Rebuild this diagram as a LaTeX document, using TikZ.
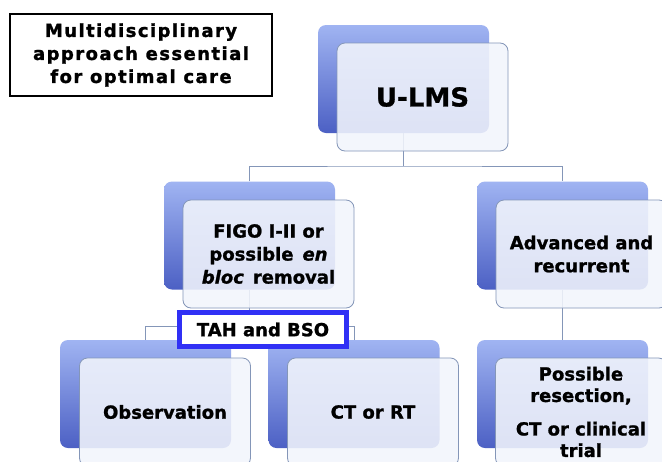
\documentclass[tikz,border=0pt]{standalone}
\usepackage{fontspec}
\setmainfont{DejaVu Sans}[BoldFeatures={FakeBold=1.2}, BoldItalicFeatures={FakeBold=1.2}]
\newfontfamily\titlefont{DejaVu Sans}[LetterSpace=8, BoldFeatures={FakeBold=1.4}]
\usetikzlibrary{positioning}
\definecolor{linkcol}{RGB}{132,150,184}
\definecolor{backtop}{RGB}{160,180,242}
\definecolor{backbot}{RGB}{76,96,196}
\definecolor{frontfill}{RGB}{242,245,252}
\definecolor{tahblue}{RGB}{48,48,245}

\begin{document}
\begin{tikzpicture}[
		x=1pt, y=-1pt,
		backbox/.style={rounded corners=8pt, minimum width=171pt, minimum height=108pt, top color=backtop, bottom color=backbot, draw=none},
		frontbox/.style={draw=linkcol, line width=0.8pt, rounded corners=8pt, minimum width=171pt, minimum height=108pt, fill=frontfill, fill opacity=0.88, text opacity=1, align=center, font=\fontsize{18}{23}\selectfont\bfseries},
		link/.style={draw=linkcol, line width=1pt},
	]
	\clip (0,0) rectangle (662,461);
	\fill[white] (0,0) rectangle (662,461);

	\node[draw=black, line width=1.5pt, fill=white, minimum width=262pt, minimum height=82pt, align=center, font=\titlefont\fontsize{18}{23}\selectfont\bfseries] (title) at (141,55) {Multidisciplinary\\approach essential\\for optimal care};

	% top level
	\node[backbox] (ulmsBack) at (403.5,79) {};
	% second level
	\node[backbox] (figoBack) at (249.5,235.5) {};
	\node[backbox] (advBack) at (562.5,235.5) {};
	% third level
	\node[backbox] (obsBack) at (145.5,394) {};
	\node[backbox] (ctBack) at (354,394) {};
	\node[backbox] (resBack) at (562.5,394) {};

	\coordinate (split1) at (403.5,166);
	\coordinate (split2) at (249.5,326);
	\draw[link] (ulmsBack.south) -- (split1);
	\draw[link] (figoBack.north) |- (split1) -| (advBack.north);
	\draw[link] (figoBack.south) -- (split2);
	\draw[link] (obsBack.north) |- (split2) -| (ctBack.north);
	\draw[link] (advBack.south) -- (resBack.north);

	\node[frontbox, font=\fontsize{26}{30}\selectfont\bfseries] (ulms) at (422.5,97) {U-LMS};
	\node[frontbox] (figo) at (268.5,254) {FIGO I-II or\\possible\enspace\textit{en}\\\textit{bloc}\enspace removal};
	\node[frontbox] (adv) at (581.5,254) {Advanced and\\recurrent};
	\node[frontbox] (obs) at (165,412) {Observation};
	\node[frontbox] (ct) at (373,412) {CT or RT};
	\node[frontbox, font=\fontsize{18}{21.5}\selectfont\bfseries] (res) at (581,412) {Possible\\resection,\\[12pt]CT or clinical\\trial};

	\node[draw=tahblue, line width=5pt, fill=white, minimum width=167pt, minimum height=34pt, font=\fontsize{18}{22}\selectfont\bfseries] (tah) at (263,329.5) {TAH and BSO};
\end{tikzpicture}
\end{document}
